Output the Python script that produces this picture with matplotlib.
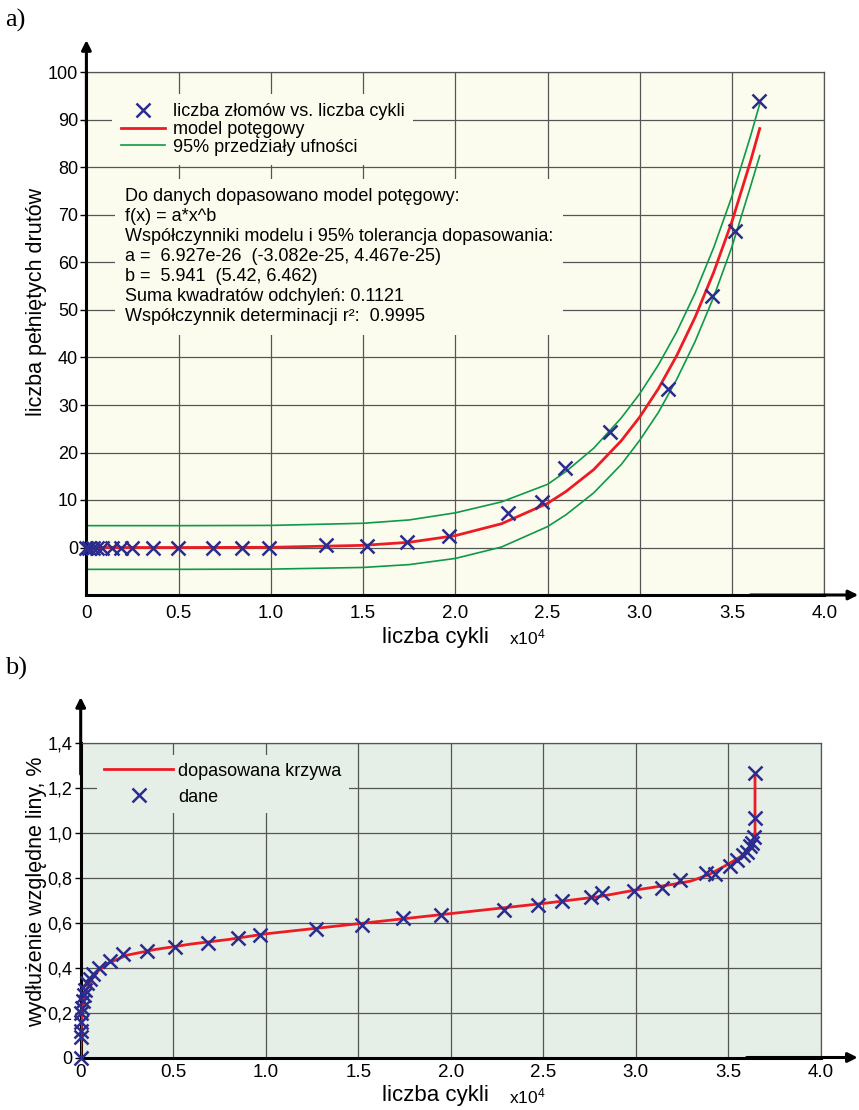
import matplotlib
matplotlib.use('Agg')
import matplotlib.pyplot as plt

plt.rcParams['font.family'] = ['Liberation Sans', 'DejaVu Sans']
plt.rcParams['mathtext.default'] = 'regular'

# ---- a) broken wires vs cycles (x in 1e4 cycles)
a_x = [0, 0.016, 0.037, 0.06, 0.083, 0.137, 0.19, 0.246, 0.363, 0.498, 0.688, 0.842, 0.99,
       1.30, 1.52, 1.737, 1.963, 2.288, 2.469, 2.595, 2.836, 3.152, 3.391, 3.514, 3.644]
a_y = [0, 0, 0, 0, 0, 0, 0, 0, 0, 0, 0, 0, 0,
       0.5, 0.3, 1.1, 2.5, 7.2, 9.5, 16.8, 24.3, 33.3, 53.0, 66.6, 93.9]

# power model and 95% bounds
fit_x = [0, 0.5, 1.0, 1.5, 1.75, 2.0, 2.25, 2.5, 2.6, 2.75, 2.9, 3.0, 3.1, 3.2, 3.3, 3.4, 3.5, 3.6, 3.65]
fit_y = [0, 0.0, 0.04, 0.45, 1.1, 2.5, 5.0, 9.3, 11.8, 16.4, 22.5, 27.5, 33.4, 40.4, 48.5, 57.9, 68.7, 81.3, 88.2]
up_y = [4.6, 4.6, 4.65, 5.1, 5.8, 7.3, 9.6, 13.3, 16.0, 20.9, 27.3, 32.4, 38.4, 45.4, 53.6, 63.1, 74.0, 86.6, 93.4]
lo_y = [-4.6, -4.6, -4.55, -4.2, -3.6, -2.3, 0.1, 4.4, 6.9, 11.5, 17.5, 22.6, 28.4, 35.4, 43.4, 52.7, 63.4, 76.0, 82.5]

fit_text = ("Do danych dopasowano model potęgowy:\n"
            "f(x) = a*x^b\n"
            "Współczynniki modelu i 95% tolerancja dopasowania:\n"
            "a =  6.927e-26  (-3.082e-25, 4.467e-25)\n"
            "b =  5.941  (5.42, 6.462)\n"
            "Suma kwadratów odchyleń: 0.1121\n"
            "Współczynnik determinacji r²:  0.9995")

# ---- b) relative elongation vs cycles
b_x = [0, 0, 0, 0, 0.003, 0.006, 0.01, 0.016, 0.025, 0.035, 0.05, 0.065, 0.10, 0.16, 0.23,
       0.36, 0.51, 0.69, 0.85, 0.97, 1.27, 1.52, 1.74, 1.95, 2.29, 2.47, 2.60, 2.76, 2.82,
       2.99, 3.14, 3.24, 3.38, 3.43, 3.51, 3.55, 3.58, 3.60, 3.62, 3.63, 3.64, 3.645, 3.645]
b_y = [0, 0.09, 0.12, 0.16, 0.20, 0.22, 0.25, 0.28, 0.30, 0.33, 0.35, 0.37, 0.40, 0.43, 0.46,
       0.475, 0.49, 0.51, 0.53, 0.545, 0.57, 0.59, 0.62, 0.635, 0.655, 0.68, 0.695, 0.713, 0.73,
       0.742, 0.755, 0.79, 0.82, 0.815, 0.85, 0.88, 0.90, 0.915, 0.94, 0.955, 0.98, 1.065, 1.265]

curve_x = [0, 0.002, 0.01, 0.03, 0.06, 0.1, 0.15, 0.25, 0.4, 0.6, 0.8, 1.0, 1.5, 2.0, 2.5,
           2.8, 3.0, 3.2, 3.3, 3.4, 3.5, 3.58, 3.62, 3.64, 3.645, 3.645]
curve_y = [0, 0.12, 0.22, 0.30, 0.35, 0.39, 0.42, 0.455, 0.48, 0.505, 0.525, 0.55, 0.595, 0.64, 0.685,
           0.715, 0.745, 0.77, 0.785, 0.815, 0.86, 0.90, 0.94, 0.98, 1.0, 1.25]

a_yticks = [0, 10, 20, 30, 40, 50, 60, 70, 80, 90, 100]
b_yticks = [0, 0.2, 0.4, 0.6, 0.8, 1.0, 1.2, 1.4]
b_ylabels = ['0', '0,2', '0,4', '0,6', '0,8', '1,0', '1,2', '1,4']
xticks = [0, 0.5, 1.0, 1.5, 2.0, 2.5, 3.0, 3.5, 4.0]
xlabels = ['0', '0.5', '1.0', '1.5', '2.0', '2.5', '3.0', '3.5', '4.0']

RED = '#ed1c24'
GREEN = '#0c9a48'
NAVY = '#2b2c8c'
GRID = '#555555'

W, H = 859, 1110
fig = plt.figure(figsize=(W / 100, H / 100), dpi=100)


def fx(px):
    return px / W


def fy(py):
    return 1 - py / H


ax1 = fig.add_axes([fx(86.4), fy(595), (824.3 - 86.4) / W, (595 - 72.5) / H])
ax2 = fig.add_axes([fx(80.7), fy(1057.5), 740 / W, (1057.5 - 742.7) / H])


def style(ax, bg, ytop, xright):
    ax.set_facecolor(bg)
    ax.grid(True, color=GRID, lw=0.9)
    ax.set_axisbelow(True)
    for s in ['top', 'right']:
        ax.spines[s].set_color(GRID)
        ax.spines[s].set_linewidth(0.9)
    for s in ['left', 'bottom']:
        ax.spines[s].set_color('black')
        ax.spines[s].set_linewidth(2.2)
    ax.tick_params(axis='x', length=0, pad=7, labelsize=13.5)
    ax.tick_params(axis='y', length=4, width=1, pad=2, labelsize=13)
    for lbl in ax.get_xticklabels():
        lbl.set_family(['Liberation Sans Narrow', 'Liberation Sans'])
    # arrows on the main axes
    ax.annotate('', xy=(0, ytop), xytext=(0, 0.9), xycoords='axes fraction',
                arrowprops=dict(arrowstyle='-|>', lw=2.2, color='black', mutation_scale=14,
                                shrinkA=0, shrinkB=0))
    ax.annotate('', xy=(xright, 0), xytext=(0.9, 0), xycoords='axes fraction',
                arrowprops=dict(arrowstyle='-|>', lw=2.2, color='black', mutation_scale=14,
                                shrinkA=0, shrinkB=0))


# ---------- a)
ax1.plot(fit_x, up_y, color=GREEN, lw=1.2, label='95% przedziały ufności')
ax1.plot(fit_x, lo_y, color=GREEN, lw=1.2)
ax1.plot(fit_x, fit_y, color=RED, lw=2, label='model potęgowy')
ax1.plot(a_x, a_y, 'x', color=NAVY, ms=10, mew=1.8, clip_on=False, zorder=4,
         label='liczba złomów vs. liczba cykli')
ax1.set_xlim(0, 4.0)
ax1.set_ylim(-10, 100)
ax1.set_xticks(xticks)
ax1.set_xticklabels(xlabels)
ax1.set_yticks(a_yticks)
style(ax1, '#fcfcee', 1.062, 1.046)

h, l = ax1.get_legend_handles_labels()
order = [2, 1, 0]
ax1.legend([h[i] for i in order], [l[i] for i in order], loc='upper left',
           bbox_to_anchor=(0.035, 0.959), fontsize=13, frameon=True, fancybox=False,
           facecolor='#fcfcee', edgecolor='none', framealpha=1, borderpad=0.5,
           labelspacing=0.05, handlelength=2.4, handletextpad=0.45, borderaxespad=0)

ax1.text(0.0523, 0.778, fit_text, transform=ax1.transAxes, ha='left', va='top',
         fontsize=13, linespacing=1.22,
         bbox=dict(boxstyle='square,pad=0.55', facecolor='#fcfcee', edgecolor='none'))

# ---------- b)
ax2.plot(curve_x, curve_y, color=RED, lw=2, label='dopasowana krzywa', zorder=3)
ax2.plot(b_x, b_y, 'x', color=NAVY, ms=10, mew=1.8, clip_on=False, zorder=4, label='dane')
ax2.set_xlim(0, 4.0)
ax2.set_ylim(0, 1.4)
ax2.set_xticks(xticks)
ax2.set_xticklabels(xlabels)
ax2.set_yticks(b_yticks)
ax2.set_yticklabels(b_ylabels)
style(ax2, '#e6efe7', 1.145, 1.05)
ax2.tick_params(axis='x', pad=5)
ax2.legend(loc='upper left', bbox_to_anchor=(0.022, 0.96), fontsize=13, frameon=True,
           fancybox=False, facecolor='#e6efe7', edgecolor='none', framealpha=1,
           borderpad=0.4, labelspacing=0.5, handlelength=3.8, handletextpad=0.3,
           borderaxespad=0)

# ---------- labels
fig.text(fx(37), fy(302), 'liczba pełniętych drutów', rotation=90, ha='center', va='center',
         fontsize=15.5)
fig.text(fx(37), fy(892), 'wydłużenie względne liny, %', rotation=90, ha='center', va='center',
         fontsize=15.5)
fig.text(fx(435), fy(637), 'liczba cykli', ha='center', va='center', fontsize=16)
fig.text(fx(527), fy(637), 'x10$^{4}$', ha='center', va='center', fontsize=12.5)
fig.text(fx(435), fy(1096), 'liczba cykli', ha='center', va='center', fontsize=16)
fig.text(fx(527), fy(1096), 'x10$^{4}$', ha='center', va='center', fontsize=12.5)
fig.text(fx(5), fy(20), 'a)', ha='left', va='center', fontsize=19, family='Liberation Serif')
fig.text(fx(5), fy(668), 'b)', ha='left', va='center', fontsize=19, family='Liberation Serif')

fig.savefig('out.png', dpi=100, facecolor='white')
